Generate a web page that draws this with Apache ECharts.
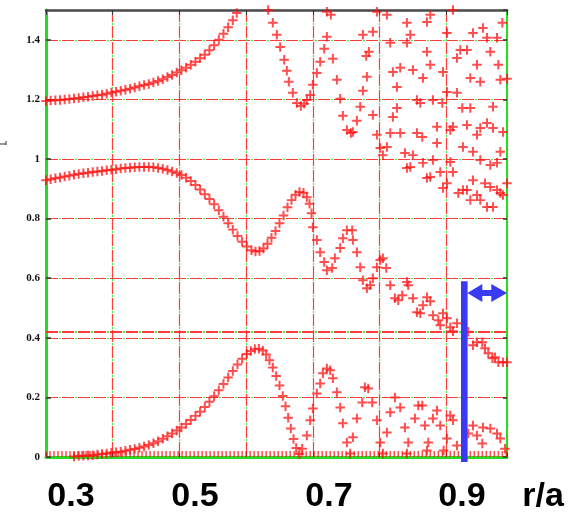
<!DOCTYPE html>
<html><head><meta charset="utf-8">
<script src="https://cdn.jsdelivr.net/npm/echarts@6/dist/echarts.min.js"></script>
<style>html,body{margin:0;padding:0;background:#fff}#c{width:574px;height:512px}</style>
</head><body><div id="c"></div>
<script>
// ---- data (r/a, value) ----
const upperBranch = [
[0.300,1.195],[0.307,1.196],[0.314,1.197],[0.321,1.198],[0.328,1.200],[0.335,1.201],[0.342,1.203],[0.349,1.205],
[0.356,1.207],[0.363,1.209],[0.370,1.211],[0.377,1.214],[0.384,1.216],[0.391,1.219],[0.398,1.223],[0.405,1.226],
[0.412,1.229],[0.419,1.232],[0.426,1.236],[0.433,1.240],[0.440,1.244],[0.447,1.248],[0.454,1.252],[0.461,1.257],
[0.468,1.262],[0.475,1.268],[0.482,1.275],[0.489,1.282],[0.496,1.290],[0.503,1.298],[0.510,1.306],[0.517,1.316],
[0.524,1.326],[0.531,1.338],[0.538,1.350],[0.545,1.365],[0.552,1.382],[0.559,1.400],[0.566,1.420],[0.573,1.442],
[0.580,1.466],[0.586,1.490],
[0.633,1.500],[0.640,1.457],[0.646,1.417],[0.651,1.376],[0.657,1.333],[0.661,1.296],[0.664,1.259],[0.670,1.222],
[0.676,1.188],[0.682,1.178],[0.687,1.185],[0.691,1.198],[0.696,1.215],[0.700,1.249],[0.706,1.289],[0.711,1.326],
[0.717,1.370],[0.721,1.410],[0.721,1.494],[0.727,1.484],[0.730,1.336],[0.736,1.266],[0.741,1.202],[0.745,1.145],
[0.751,1.097],[0.757,1.087],[0.760,1.091],[0.766,1.128],[0.771,1.175],[0.775,1.229],[0.781,1.276],[0.780,1.346],
[0.784,1.360],[0.790,1.427],[0.775,1.417],[0.796,1.494],[0.811,1.484]
];
const middleBranch = [
[0.300,0.929],[0.307,0.932],[0.314,0.935],[0.321,0.938],[0.328,0.941],[0.335,0.944],[0.342,0.947],[0.349,0.950],
[0.356,0.952],[0.363,0.954],[0.370,0.956],[0.377,0.958],[0.384,0.960],[0.391,0.962],[0.398,0.964],[0.405,0.966],
[0.412,0.968],[0.419,0.970],[0.426,0.971],[0.433,0.972],[0.440,0.973],[0.447,0.973],[0.454,0.973],[0.461,0.972],
[0.468,0.970],[0.475,0.967],[0.482,0.963],[0.489,0.958],[0.496,0.953],[0.503,0.946],[0.510,0.937],[0.517,0.926],
[0.524,0.913],[0.531,0.898],[0.538,0.882],[0.545,0.866],[0.552,0.848],[0.559,0.828],[0.566,0.806],[0.573,0.784],
[0.580,0.763],[0.587,0.742],[0.594,0.722],[0.601,0.706],[0.608,0.694],[0.614,0.690],[0.620,0.691],[0.626,0.700],
[0.632,0.716],[0.638,0.736],[0.644,0.758],[0.650,0.784],[0.656,0.810],[0.662,0.838],[0.668,0.862],[0.674,0.880],
[0.680,0.889],[0.686,0.887],[0.691,0.872],[0.695,0.850],[0.698,0.818],[0.700,0.771],
[0.706,0.728],[0.711,0.687],[0.717,0.654],[0.721,0.627],[0.729,0.634],[0.733,0.667],[0.741,0.701],[0.745,0.734],
[0.751,0.761],[0.759,0.761],[0.760,0.728],[0.766,0.687],[0.771,0.637],[0.775,0.593],[0.781,0.566],[0.786,0.576],
[0.790,0.600],[0.796,0.637],[0.801,0.661],[0.805,0.667],[0.810,0.634],[0.816,0.576],[0.823,0.533],[0.828,0.526],
[0.834,0.543],[0.841,0.587],[0.843,0.576],[0.850,0.533],[0.856,0.486],[0.861,0.482],[0.865,0.509],[0.871,0.536],
[0.876,0.523],[0.880,0.476],[0.888,0.459],[0.891,0.442],[0.895,0.482],[0.901,0.466],[0.906,0.435],[0.910,0.422],
[0.916,0.449],[0.933,0.420],[0.940,0.375],[0.946,0.385],[0.954,0.385],[0.958,0.365],[0.963,0.348],[0.969,0.331],
[0.973,0.335],[0.978,0.318],[0.985,0.318],[0.991,0.318]
];
const lowerBranch = [
[0.342,0.002],[0.349,0.003],[0.356,0.004],[0.363,0.005],[0.370,0.006],[0.377,0.008],[0.384,0.010],[0.391,0.012],
[0.398,0.014],[0.405,0.016],[0.412,0.018],[0.419,0.021],[0.426,0.024],[0.433,0.027],[0.440,0.031],[0.447,0.035],
[0.454,0.040],[0.461,0.046],[0.468,0.053],[0.475,0.061],[0.482,0.070],[0.489,0.079],[0.496,0.089],[0.503,0.099],
[0.510,0.111],[0.517,0.124],[0.524,0.138],[0.531,0.152],[0.538,0.168],[0.545,0.185],[0.552,0.204],[0.559,0.224],
[0.566,0.245],[0.573,0.267],[0.580,0.289],[0.587,0.310],[0.594,0.330],[0.601,0.346],[0.607,0.356],[0.613,0.362],
[0.619,0.363],[0.625,0.357],[0.630,0.344],[0.635,0.325],[0.640,0.300],[0.645,0.272],[0.650,0.240],[0.655,0.205],
[0.659,0.170],[0.663,0.132],[0.667,0.096],[0.671,0.060],[0.675,0.030],[0.680,0.010],
[0.684,0.028],[0.691,0.072],[0.696,0.123],[0.700,0.163],[0.706,0.213],[0.711,0.247],[0.715,0.281],[0.721,0.297],
[0.726,0.291],[0.730,0.264],[0.736,0.217],[0.741,0.166],[0.745,0.113],[0.751,0.049],[0.756,0.012],[0.760,0.066],
[0.766,0.129],[0.774,0.183],[0.778,0.234],[0.783,0.230],[0.789,0.183],[0.796,0.123],[0.801,0.049],[0.805,0.012],
[0.811,0.082],[0.816,0.150],[0.823,0.200],[0.831,0.166],[0.838,0.099],[0.843,0.049],[0.841,0.012],[0.853,0.129],
[0.858,0.173],[0.864,0.173],[0.868,0.106],[0.873,0.049],[0.871,0.022],[0.880,0.129],[0.886,0.156],[0.891,0.106],
[0.896,0.022],[0.901,0.062],[0.906,0.139],[0.910,0.123],[0.916,0.039],[0.933,0.079],[0.940,0.106],[0.946,0.072],
[0.954,0.045],[0.955,0.099],[0.966,0.096],[0.976,0.079],[0.981,0.062],[0.988,0.028]
];
const outerScatter = [
[0.790,1.148],[0.796,1.081],[0.801,1.037],[0.805,1.013],[0.811,1.040],[0.816,1.087],[0.831,1.087],[0.820,1.141],
[0.826,1.171],[0.820,1.292],[0.831,1.306],[0.826,1.242],[0.816,1.390],[0.841,1.457],[0.841,1.390],[0.838,1.020],
[0.841,0.970],[0.846,1.417],[0.850,1.299],[0.871,1.460],[0.876,1.484],[0.871,1.360],[0.876,1.316],[0.865,1.272],
[0.895,1.292],[0.901,1.423],[0.910,1.500],[0.940,1.423],[0.955,1.440],[0.984,1.457],[0.961,1.407],[0.976,1.407],
[0.966,1.360],[0.921,1.366],[0.931,1.366],[0.916,1.339],[0.946,1.316],[0.978,1.316],[0.936,1.272],[0.951,1.259],
[0.981,1.266],[0.991,1.269],[0.916,1.222],[0.901,1.225],[0.856,1.198],[0.861,1.188],[0.880,1.198],[0.894,1.188],
[0.924,1.171],[0.936,1.171],[0.970,1.175],[0.856,1.087],[0.864,1.074],[0.886,1.108],[0.886,1.054],[0.906,1.097],
[0.910,1.108],[0.931,1.114],[0.946,1.081],[0.951,1.104],[0.961,1.121],[0.970,1.104],[0.985,1.091],[0.925,1.040],
[0.940,1.024],[0.981,1.024],[0.850,1.013],[0.865,0.987],[0.880,0.997],[0.906,0.990],[0.951,0.997],[0.966,0.980],
[0.976,0.987],[0.846,0.973],[0.871,0.936],[0.876,0.940],[0.891,0.956],[0.910,0.956],[0.901,0.919],[0.895,0.903],
[0.940,0.929],[0.958,0.919],[0.966,0.906],[0.976,0.896],[0.981,0.886],[0.918,0.886],[0.925,0.896],[0.931,0.896],
[0.936,0.862],[0.946,0.879],[0.951,0.862],[0.961,0.839],[0.970,0.839],[0.985,0.879],[0.991,0.919]
];
const baselineR = [0.300,0.306,0.312,0.318,0.324,0.330,0.336,0.342,0.348,0.354,0.360,0.366,0.372,0.378,0.384,0.390,
0.396,0.402,0.408,0.414,0.420,0.426,0.432,0.438,0.444,0.450,0.456,0.462,0.468,0.474,0.480,0.486,0.492,0.498,0.504,
0.510,0.516,0.522,0.528,0.534,0.540,0.546,0.552,0.558,0.564,0.570,0.576,0.582,0.588,0.594,0.600,0.606,0.612,0.618,
0.624,0.630,0.636,0.642,0.648,0.654,0.660,0.666,0.672,0.678,0.684,0.690,0.696,0.702,0.708,0.714,0.720,0.726,0.732,
0.738,0.744,0.750,0.756,0.762,0.768,0.774,0.780,0.786,0.792,0.798,0.804,0.810,0.816,0.822,0.828,0.834,0.840,0.846,
0.852,0.858,0.864,0.870,0.876,0.882,0.888,0.894,0.900,0.906,0.912,0.918,0.924,0.930,0.936,0.942,0.948,0.954,0.960,
0.966,0.972,0.978,0.984,0.990];
const xTickLabels = ['0.3', '0.5', '0.7', '0.9'];
const xAxisTitle = 'r/a';
const thresholdValue = 0.418;
const edgeR = 0.927;

// ---- styling ----
const RED = 'rgba(255,15,15,0.92)';
const GRID_RED = 'rgba(255,40,40,0.9)';
const GRID_GREEN = '#3cf03c';
const PLUS = 'path://M-1,-0.21H1V0.21H-1Z M-0.21,-1H0.21V1H-0.21Z';
const X_MIN = 0.3, X_MAX = 0.991, Y_MIN = 0, Y_MAX = 1.5;

const chart = echarts.init(document.getElementById('c'), null, {renderer: 'canvas'});

function plusSeries(name, data) {
  return {
    name, type: 'scatter', data, symbol: PLUS, symbolSize: 9.5,
    itemStyle: {color: RED}, silent: true, animation: false, z: 3
  };
}

const redSplit = {show: true, lineStyle: {color: GRID_RED, width: 1.2, type: [12, 4]}};
const greenSplit = {show: true, lineStyle: {color: GRID_GREEN, width: 1.2, type: [2, 14], dashOffset: 3}};

chart.setOption({
  animation: false,
  backgroundColor: '#fff',
  grid: {left: 46, right: 67, top: 10, bottom: 55, outerBoundsMode: 'none', containLabel: false},
  xAxis: [
    {type: 'value', min: X_MIN, max: X_MAX, interval: 0.1, position: 'bottom',
     axisLine: {show: true, onZero: false, lineStyle: {color: '#22dd22', width: 3}},
     axisTick: {show: true, inside: true, length: 4, lineStyle: {color: '#333'}},
     axisLabel: {show: false}, splitLine: redSplit, z: 1},
    {type: 'value', min: X_MIN, max: X_MAX, interval: 0.1, position: 'top',
     axisLine: {show: true, onZero: false, lineStyle: {color: '#4a4a4a', width: 2.5}},
     axisTick: {show: true, inside: true, length: 5, lineStyle: {color: '#333'}},
     axisLabel: {show: false}, splitLine: greenSplit, z: 1}
  ],
  yAxis: [
    {type: 'value', min: Y_MIN, max: Y_MAX, interval: 0.2, position: 'left',
     axisLine: {show: true, onZero: false, lineStyle: {color: '#22dd22', width: 3}},
     axisTick: {show: true, inside: true, length: 5, lineStyle: {color: '#333', width: 1.5}},
     axisLabel: {show: true, margin: 6, color: '#111', fontFamily: 'Liberation Serif', fontWeight: 'bold', fontSize: 11,
       showMaxLabel: false,
       formatter: v => (Math.abs(v * 5 - Math.round(v * 5)) < 1e-6 ? String(+v.toFixed(1)) : '')},
     splitLine: redSplit, z: 1},
    {type: 'value', min: Y_MIN, max: Y_MAX, interval: 0.2, position: 'right',
     axisLine: {show: true, onZero: false, lineStyle: {color: '#22dd22', width: 2}},
     axisTick: {show: true, inside: true, length: 4, lineStyle: {color: '#333', width: 1.5}},
     axisLabel: {show: false}, splitLine: greenSplit, z: 1}
  ],
  series: [
    {
      name: 'baseline', type: 'scatter', data: baselineR.map(r => [r, 0]),
      symbol: 'rect', symbolSize: [1.5, 6], symbolOffset: [0, -3],
      itemStyle: {color: RED}, silent: true, z: 3,
      markLine: {
        silent: true, symbol: 'none', label: {show: false}, animation: false,
        data: [
          {yAxis: thresholdValue, lineStyle: {color: GRID_RED, width: 2.2, type: [12, 4]}},
          {yAxis: thresholdValue, lineStyle: {color: GRID_GREEN, width: 2.2, type: [2, 14], dashOffset: 3}}
        ]
      }
    },
    plusSeries('upper', upperBranch),
    plusSeries('middle', middleBranch),
    plusSeries('lower', lowerBranch),
    plusSeries('outer', outerScatter)
  ]
});

// ---- annotations (slide overlay) ----
const px = v => chart.convertToPixel({xAxisIndex: 0}, v);
const py = v => chart.convertToPixel({yAxisIndex: 0}, v);
const barX = px(edgeR);
const barTop = py(0.59);
const arrowY = py(0.55);
const rightX = px(X_MAX);
const BLUE = '#3a3af2';
const hx = barX + 3;
const arrowPts = [
  [hx, arrowY], [hx + 15, arrowY - 9], [hx + 15, arrowY - 3], [hx + 24, arrowY - 3], [hx + 24, arrowY - 9],
  [rightX, arrowY], [hx + 24, arrowY + 9], [hx + 24, arrowY + 3], [hx + 15, arrowY + 3], [hx + 15, arrowY + 9]
];
const labelX = [71, 195, 329, 462];
const textStyle = t => ({text: t, fontSize: 34, fontWeight: 'bold', fontFamily: 'Liberation Sans', fill: '#000',
  align: 'center', verticalAlign: 'middle'});
const graphics = [
  {type: 'rect', shape: {x: barX - 3.3, y: barTop, width: 6.6, height: py(0) - barTop + 5}, style: {fill: BLUE}, z: 100},
  {type: 'polygon', shape: {points: arrowPts}, style: {fill: BLUE}, z: 100},
  {type: 'line', shape: {x1: 0, y1: 144, x2: 6, y2: 144}, style: {stroke: '#333', lineWidth: 1}, z: 100},
  {type: 'line', shape: {x1: 6, y1: 141, x2: 6, y2: 145}, style: {stroke: '#333', lineWidth: 1}, z: 100}
];
xTickLabels.forEach((t, i) => graphics.push({type: 'text', x: labelX[i], y: 497, style: textStyle(t), z: 100}));
graphics.push({type: 'text', x: 543, y: 497, style: textStyle(xAxisTitle), z: 100});
chart.setOption({graphic: graphics});
</script>
</body></html>
